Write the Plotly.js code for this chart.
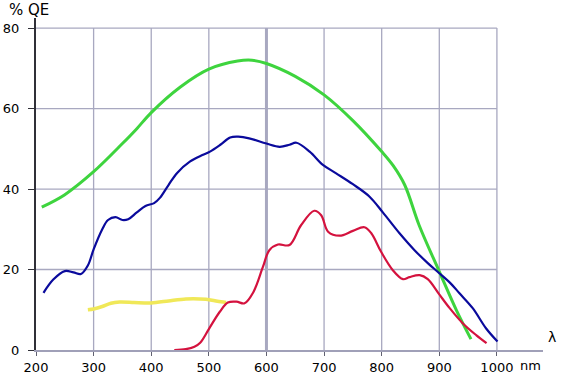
<!DOCTYPE html>
<html>
<head>
<meta charset="utf-8">
<script src="https://cdn.plot.ly/plotly-3.0.1.min.js"></script>
<style>html,body{margin:0;padding:0;background:#fff;}#chart{width:561px;height:378px;}</style>
</head>
<body>
<div id="chart"></div>
<script>
// Data (wavelength nm, % QE)
const greenX = [210, 250, 300, 350, 375, 400, 450, 500, 550, 575, 600, 650, 700, 750, 800, 820, 840, 865, 900, 930, 955];
const greenY = [35.5, 38.6, 44.3, 51.3, 55, 59, 65.3, 69.8, 71.8, 72, 71.2, 68, 63.4, 57, 49.3, 45.8, 41, 31, 19.5, 9.8, 2.7];

const blueX = [213, 230, 250, 265, 278, 290, 300, 315, 325, 338, 350, 360, 375, 390, 405, 415, 430, 445, 467, 490, 502, 520, 537, 551, 570, 600, 623, 640, 652, 675, 698, 721, 750, 779, 802, 831, 857, 880, 899, 920, 935, 958, 981, 1001];
const blueY = [14.2, 17.5, 19.6, 19.3, 18.9, 21, 25, 30, 32.3, 33, 32.3, 32.5, 34.2, 35.8, 36.5, 37.8, 41, 44, 46.8, 48.5, 49.3, 51, 52.8, 53, 52.6, 51.3, 50.5, 51, 51.5, 49.3, 46, 43.9, 41.2, 38.1, 34.2, 29, 24.8, 21.6, 19.2, 16.5, 14.1, 10.4, 5.4, 2.1];

const redX = [440, 460, 475, 485, 500, 519, 533, 548, 562, 577, 594, 605, 620, 640, 660, 683, 695, 707, 727, 750, 770, 782, 799, 819, 837, 848, 866, 880, 899, 918, 941, 964, 982];
const redY = [0, 0.2, 0.8, 1.8, 5.2, 9.5, 11.8, 12, 11.6, 14.3, 20.7, 24.8, 26.2, 26.1, 31, 34.6, 33.5, 29.4, 28.4, 29.6, 30.5, 29, 24.4, 19.9, 17.6, 18.1, 18.6, 17.6, 14, 10.4, 6.6, 3.7, 1.7];

const yellowX = [290, 300, 315, 330, 345, 370, 400, 430, 460, 495, 515, 530];
const yellowY = [10, 10.2, 10.8, 11.6, 11.9, 11.8, 11.7, 12.2, 12.7, 12.6, 12.1, 11.8];

const xTicks = [200, 300, 400, 500, 600, 700, 800, 900, 1000];
const yTicks = [0, 20, 40, 60, 80];

const traces = [
  {x: yellowX, y: yellowY, mode: 'lines', line: {color: '#f0e858', width: 3.5, shape: 'spline', smoothing: 0.8}, hoverinfo: 'skip'},
  {x: greenX, y: greenY, mode: 'lines', line: {color: '#3ed43e', width: 3, shape: 'spline', smoothing: 1}, hoverinfo: 'skip'},
  {x: redX, y: redY, mode: 'lines', line: {color: '#d4123e', width: 2.2, shape: 'spline', smoothing: 1}, hoverinfo: 'skip'},
  {x: blueX, y: blueY, mode: 'lines', line: {color: '#0a0a9c', width: 2.2, shape: 'spline', smoothing: 1}, hoverinfo: 'skip'}
];

const gridColor = '#a8a8c0';
const shapes = [];
yTicks.filter(v => v > 0).forEach(v => {
  shapes.push({type: 'line', xref: 'x', yref: 'y', x0: 200, x1: 1000, y0: v, y1: v, layer: 'below', line: {color: gridColor, width: 1.3}});
});
xTicks.filter(v => v > 200).forEach(v => {
  shapes.push({type: 'line', xref: 'x', yref: 'y', x0: v, x1: v, y0: 0, y1: 80, layer: 'below', line: {color: gridColor, width: v === 600 ? 3 : 1.3}});
});

const fam = 'DejaVu Sans, Verdana, sans-serif';
const font = {family: fam, size: 13, color: '#000'};

const layout = {
  width: 561, height: 378,
  margin: {l: 36, r: 18, t: 18, b: 28},
  paper_bgcolor: '#fff', plot_bgcolor: '#fff',
  showlegend: false,
  font: font,
  xaxis: {
    range: [200, 1080], tickvals: xTicks, ticktext: xTicks.map(String),
    showgrid: false, zeroline: false,
    showline: true, linecolor: '#a0a0b8', linewidth: 2,
    ticks: 'outside', ticklen: 4, tickcolor: '#606070', tickwidth: 1,
    tickfont: font, ticklabelstandoff: 0
  },
  yaxis: {
    range: [0, 82.5], tickvals: yTicks, ticktext: yTicks.map(String),
    showgrid: false, zeroline: false,
    showline: true, linecolor: '#303038', linewidth: 2,
    ticks: 'outside', ticklen: 6, tickcolor: '#303038', tickwidth: 1,
    tickfont: font, ticklabelstandoff: 6
  },
  shapes: shapes,
  annotations: [
    {text: '% QE', xref: 'paper', yref: 'paper', x: -0.057, y: 1.024, xanchor: 'left', yanchor: 'middle', showarrow: false, font: {family: fam, size: 15, color: '#000'}},
    {text: 'λ', xref: 'paper', yref: 'paper', x: 1.006, y: 0.008, xanchor: 'left', yanchor: 'bottom', showarrow: false, font: {family: fam, size: 14, color: '#000'}},
    {text: 'nm', xref: 'paper', yref: 'paper', x: 0.951, y: -0.048, xanchor: 'left', yanchor: 'middle', showarrow: false, font: font}
  ]
};

Plotly.newPlot('chart', traces, layout, {staticPlot: true, displayModeBar: false});
</script>
</body>
</html>
